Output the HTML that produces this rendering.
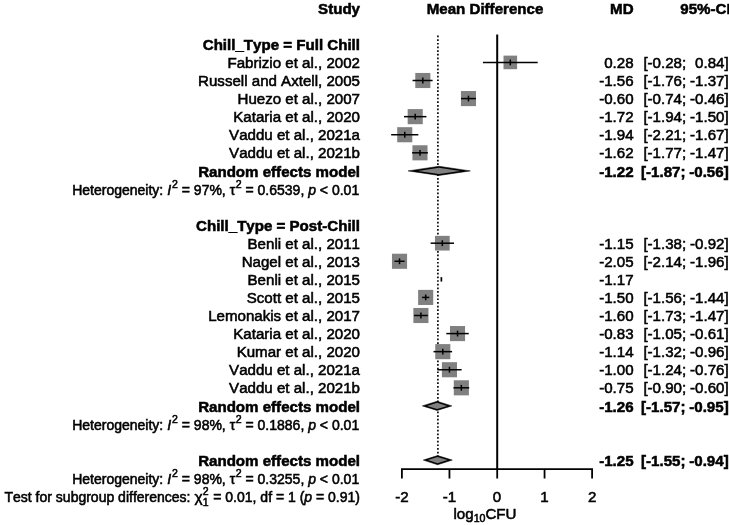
<!DOCTYPE html>
<html><head><meta charset="utf-8"><title>Forest plot</title>
<style>
html,body{margin:0;padding:0;background:#fff;}
svg{display:block;will-change:transform;font-family:"Liberation Sans",sans-serif;font-size:15.1px;fill:#000;}
text{white-space:pre;font-kerning:none;stroke:#000;stroke-width:0.55px;}
.sm{font-size:14.0px;}
</style></head>
<body>
<svg width="729" height="525" viewBox="0 0 729 525">
<rect width="729" height="525" fill="#fff"/>
<line x1="497.20" y1="34.4" x2="497.20" y2="469.1" stroke="#000" stroke-width="2.0"/>
<line x1="437.9" y1="35.6" x2="437.9" y2="455.82" stroke="#000" stroke-width="1.65" stroke-dasharray="1.7 1.95"/>
<path d="M401.90 478.5 V469.1 H592.10 V478.5" fill="none" stroke="#000" stroke-width="1.8"/>
<line x1="449.45" y1="469.1" x2="449.45" y2="478.5" stroke="#000" stroke-width="1.8"/>
<line x1="497.20" y1="469.1" x2="497.20" y2="478.5" stroke="#000" stroke-width="1.8"/>
<line x1="544.55" y1="469.1" x2="544.55" y2="478.5" stroke="#000" stroke-width="1.8"/>
<rect x="503.51" y="55.62" width="13.6" height="13.6" fill="#808080"/>
<line x1="483.69" y1="62.42" x2="536.94" y2="62.42" stroke="#000" stroke-width="1.5" stroke-linecap="square"/>
<line x1="510.31" y1="59.52" x2="510.31" y2="65.32" stroke="#000" stroke-width="1.5"/>
<rect x="415.27" y="72.95" width="15.1" height="15.1" fill="#808080"/>
<line x1="413.31" y1="80.50" x2="431.86" y2="80.50" stroke="#000" stroke-width="1.5" stroke-linecap="square"/>
<line x1="422.82" y1="77.60" x2="422.82" y2="83.40" stroke="#000" stroke-width="1.5"/>
<rect x="460.92" y="91.03" width="15.1" height="15.1" fill="#808080"/>
<line x1="461.81" y1="98.58" x2="475.13" y2="98.58" stroke="#000" stroke-width="1.5" stroke-linecap="square"/>
<line x1="468.47" y1="95.67" x2="468.47" y2="101.48" stroke="#000" stroke-width="1.5"/>
<rect x="407.66" y="109.10" width="15.1" height="15.1" fill="#808080"/>
<line x1="404.75" y1="116.65" x2="425.68" y2="116.65" stroke="#000" stroke-width="1.5" stroke-linecap="square"/>
<line x1="415.21" y1="113.75" x2="415.21" y2="119.55" stroke="#000" stroke-width="1.5"/>
<rect x="397.20" y="127.18" width="15.1" height="15.1" fill="#808080"/>
<line x1="391.91" y1="134.73" x2="417.59" y2="134.73" stroke="#000" stroke-width="1.5" stroke-linecap="square"/>
<line x1="404.75" y1="131.83" x2="404.75" y2="137.63" stroke="#000" stroke-width="1.5"/>
<rect x="412.42" y="145.26" width="15.1" height="15.1" fill="#808080"/>
<line x1="412.84" y1="152.81" x2="427.10" y2="152.81" stroke="#000" stroke-width="1.5" stroke-linecap="square"/>
<line x1="419.97" y1="149.91" x2="419.97" y2="155.71" stroke="#000" stroke-width="1.5"/>
<polygon points="408.08,170.88 438.99,166.28 470.37,170.88 438.99,175.48" fill="#000" stroke="#000" stroke-width="0.5"/>
<polygon points="417.97,170.88 438.99,167.75 460.33,170.88 438.99,174.01" fill="#808080"/>
<rect x="434.97" y="235.84" width="14.7" height="14.7" fill="#808080"/>
<line x1="431.38" y1="243.19" x2="453.25" y2="243.19" stroke="#000" stroke-width="1.5" stroke-linecap="square"/>
<line x1="442.32" y1="240.29" x2="442.32" y2="246.09" stroke="#000" stroke-width="1.5"/>
<rect x="391.97" y="253.72" width="15.1" height="15.1" fill="#808080"/>
<line x1="395.24" y1="261.27" x2="403.80" y2="261.27" stroke="#000" stroke-width="1.5" stroke-linecap="square"/>
<line x1="399.52" y1="258.37" x2="399.52" y2="264.17" stroke="#000" stroke-width="1.5"/>
<line x1="441.37" y1="277.15" x2="441.37" y2="281.55" stroke="#000" stroke-width="1.7"/>
<rect x="418.12" y="289.87" width="15.1" height="15.1" fill="#808080"/>
<line x1="422.82" y1="297.42" x2="428.53" y2="297.42" stroke="#000" stroke-width="1.5" stroke-linecap="square"/>
<line x1="425.68" y1="294.52" x2="425.68" y2="300.32" stroke="#000" stroke-width="1.5"/>
<rect x="413.37" y="307.95" width="15.1" height="15.1" fill="#808080"/>
<line x1="414.74" y1="315.50" x2="427.10" y2="315.50" stroke="#000" stroke-width="1.5" stroke-linecap="square"/>
<line x1="420.92" y1="312.60" x2="420.92" y2="318.40" stroke="#000" stroke-width="1.5"/>
<rect x="449.98" y="326.03" width="15.1" height="15.1" fill="#808080"/>
<line x1="447.07" y1="333.58" x2="467.99" y2="333.58" stroke="#000" stroke-width="1.5" stroke-linecap="square"/>
<line x1="457.53" y1="330.68" x2="457.53" y2="336.48" stroke="#000" stroke-width="1.5"/>
<rect x="435.24" y="344.10" width="15.1" height="15.1" fill="#808080"/>
<line x1="434.23" y1="351.65" x2="451.35" y2="351.65" stroke="#000" stroke-width="1.5" stroke-linecap="square"/>
<line x1="442.79" y1="348.75" x2="442.79" y2="354.55" stroke="#000" stroke-width="1.5"/>
<rect x="441.90" y="362.18" width="15.1" height="15.1" fill="#808080"/>
<line x1="438.04" y1="369.73" x2="460.86" y2="369.73" stroke="#000" stroke-width="1.5" stroke-linecap="square"/>
<line x1="449.45" y1="366.83" x2="449.45" y2="372.63" stroke="#000" stroke-width="1.5"/>
<rect x="453.79" y="380.26" width="15.1" height="15.1" fill="#808080"/>
<line x1="454.20" y1="387.81" x2="468.47" y2="387.81" stroke="#000" stroke-width="1.5" stroke-linecap="square"/>
<line x1="461.34" y1="384.91" x2="461.34" y2="390.71" stroke="#000" stroke-width="1.5"/>
<polygon points="422.35,405.88 437.09,401.28 451.83,405.88 437.09,410.48" fill="#000" stroke="#000" stroke-width="0.5"/>
<polygon points="427.06,405.88 437.09,402.76 447.11,405.88 437.09,409.01" fill="#808080"/>
<polygon points="423.30,460.12 437.56,455.52 452.30,460.12 437.56,464.72" fill="#000" stroke="#000" stroke-width="0.5"/>
<polygon points="427.86,460.12 437.56,456.99 447.59,460.12 437.56,463.24" fill="#808080"/>
<text x="360.00" y="13.82" text-anchor="end" font-weight="bold">Study</text>
<text x="485.00" y="13.82" text-anchor="middle" font-weight="bold">Mean Difference</text>
<text x="633.60" y="13.82" text-anchor="end" font-weight="bold">MD</text>
<text x="730.60" y="13.82" text-anchor="end" font-weight="bold">95%-CI</text>
<text x="360.00" y="49.97" text-anchor="end" font-weight="bold">Chill_Type = Full Chill</text>
<text x="360.00" y="68.05" text-anchor="end">Fabrizio et al., 2002</text>
<text x="633.60" y="68.05" text-anchor="end">0.28</text>
<text x="686.20" y="68.05" text-anchor="end">[-0.28;</text>
<text x="728.70" y="68.05" text-anchor="end">0.84]</text>
<text x="360.00" y="86.13" text-anchor="end">Russell and Axtell, 2005</text>
<text x="633.60" y="86.13" text-anchor="end">-1.56</text>
<text x="686.20" y="86.13" text-anchor="end">[-1.76;</text>
<text x="728.70" y="86.13" text-anchor="end">-1.37]</text>
<text x="360.00" y="104.21" text-anchor="end">Huezo et al., 2007</text>
<text x="633.60" y="104.21" text-anchor="end">-0.60</text>
<text x="686.20" y="104.21" text-anchor="end">[-0.74;</text>
<text x="728.70" y="104.21" text-anchor="end">-0.46]</text>
<text x="360.00" y="122.28" text-anchor="end">Kataria et al., 2020</text>
<text x="633.60" y="122.28" text-anchor="end">-1.72</text>
<text x="686.20" y="122.28" text-anchor="end">[-1.94;</text>
<text x="728.70" y="122.28" text-anchor="end">-1.50]</text>
<text x="360.00" y="140.36" text-anchor="end">Vaddu et al., 2021a</text>
<text x="633.60" y="140.36" text-anchor="end">-1.94</text>
<text x="686.20" y="140.36" text-anchor="end">[-2.21;</text>
<text x="728.70" y="140.36" text-anchor="end">-1.67]</text>
<text x="360.00" y="158.44" text-anchor="end">Vaddu et al., 2021b</text>
<text x="633.60" y="158.44" text-anchor="end">-1.62</text>
<text x="686.20" y="158.44" text-anchor="end">[-1.77;</text>
<text x="728.70" y="158.44" text-anchor="end">-1.47]</text>
<text x="360.00" y="176.51" text-anchor="end" font-weight="bold">Random effects model</text>
<text x="633.60" y="176.51" text-anchor="end" font-weight="bold">-1.22</text>
<text x="685.50" y="176.51" text-anchor="end" font-weight="bold">[-1.87;</text>
<text x="728.70" y="176.51" text-anchor="end" font-weight="bold">-0.56]</text>
<text x="359.20" y="194.59" text-anchor="end" class="sm">Heterogeneity: <tspan font-style="italic">I</tspan><tspan font-size="10.5" dy="-6.8" dx="1.0">2</tspan><tspan dy="6.8"> = 97%, τ</tspan><tspan font-size="10.5" dy="-6.8" dx="0.6">2</tspan><tspan dy="6.8"> = 0.6539, </tspan><tspan font-style="italic">p</tspan> &lt; 0.01</text>
<text x="360.00" y="230.74" text-anchor="end" font-weight="bold">Chill_Type = Post-Chill</text>
<text x="360.00" y="248.82" text-anchor="end">Benli et al., 2011</text>
<text x="633.60" y="248.82" text-anchor="end">-1.15</text>
<text x="686.20" y="248.82" text-anchor="end">[-1.38;</text>
<text x="728.70" y="248.82" text-anchor="end">-0.92]</text>
<text x="360.00" y="266.90" text-anchor="end">Nagel et al., 2013</text>
<text x="633.60" y="266.90" text-anchor="end">-2.05</text>
<text x="686.20" y="266.90" text-anchor="end">[-2.14;</text>
<text x="728.70" y="266.90" text-anchor="end">-1.96]</text>
<text x="360.00" y="284.98" text-anchor="end">Benli et al., 2015</text>
<text x="633.60" y="284.98" text-anchor="end">-1.17</text>
<text x="360.00" y="303.05" text-anchor="end">Scott et al., 2015</text>
<text x="633.60" y="303.05" text-anchor="end">-1.50</text>
<text x="686.20" y="303.05" text-anchor="end">[-1.56;</text>
<text x="728.70" y="303.05" text-anchor="end">-1.44]</text>
<text x="360.00" y="321.13" text-anchor="end">Lemonakis et al., 2017</text>
<text x="633.60" y="321.13" text-anchor="end">-1.60</text>
<text x="686.20" y="321.13" text-anchor="end">[-1.73;</text>
<text x="728.70" y="321.13" text-anchor="end">-1.47]</text>
<text x="360.00" y="339.21" text-anchor="end">Kataria et al., 2020</text>
<text x="633.60" y="339.21" text-anchor="end">-0.83</text>
<text x="686.20" y="339.21" text-anchor="end">[-1.05;</text>
<text x="728.70" y="339.21" text-anchor="end">-0.61]</text>
<text x="360.00" y="357.28" text-anchor="end">Kumar et al., 2020</text>
<text x="633.60" y="357.28" text-anchor="end">-1.14</text>
<text x="686.20" y="357.28" text-anchor="end">[-1.32;</text>
<text x="728.70" y="357.28" text-anchor="end">-0.96]</text>
<text x="360.00" y="375.36" text-anchor="end">Vaddu et al., 2021a</text>
<text x="633.60" y="375.36" text-anchor="end">-1.00</text>
<text x="686.20" y="375.36" text-anchor="end">[-1.24;</text>
<text x="728.70" y="375.36" text-anchor="end">-0.76]</text>
<text x="360.00" y="393.44" text-anchor="end">Vaddu et al., 2021b</text>
<text x="633.60" y="393.44" text-anchor="end">-0.75</text>
<text x="686.20" y="393.44" text-anchor="end">[-0.90;</text>
<text x="728.70" y="393.44" text-anchor="end">-0.60]</text>
<text x="360.00" y="411.51" text-anchor="end" font-weight="bold">Random effects model</text>
<text x="633.60" y="411.51" text-anchor="end" font-weight="bold">-1.26</text>
<text x="685.50" y="411.51" text-anchor="end" font-weight="bold">[-1.57;</text>
<text x="728.70" y="411.51" text-anchor="end" font-weight="bold">-0.95]</text>
<text x="359.20" y="429.59" text-anchor="end" class="sm">Heterogeneity: <tspan font-style="italic">I</tspan><tspan font-size="10.5" dy="-6.8" dx="1.0">2</tspan><tspan dy="6.8"> = 98%, τ</tspan><tspan font-size="10.5" dy="-6.8" dx="0.6">2</tspan><tspan dy="6.8"> = 0.1886, </tspan><tspan font-style="italic">p</tspan> &lt; 0.01</text>
<text x="360.00" y="465.75" text-anchor="end" font-weight="bold">Random effects model</text>
<text x="633.60" y="465.75" text-anchor="end" font-weight="bold">-1.25</text>
<text x="685.50" y="465.75" text-anchor="end" font-weight="bold">[-1.55;</text>
<text x="728.70" y="465.75" text-anchor="end" font-weight="bold">-0.94]</text>
<text x="359.20" y="483.82" text-anchor="end" class="sm">Heterogeneity: <tspan font-style="italic">I</tspan><tspan font-size="10.5" dy="-6.8" dx="1.0">2</tspan><tspan dy="6.8"> = 98%, τ</tspan><tspan font-size="10.5" dy="-6.8" dx="0.6">2</tspan><tspan dy="6.8"> = 0.3255, </tspan><tspan font-style="italic">p</tspan> &lt; 0.01</text>
<text x="360.00" y="501.90" text-anchor="end" class="sm">Test for subgroup differences: <tspan font-size="15.5">χ</tspan><tspan font-size="10.5" dy="-6.8" dx="0.2">2</tspan><tspan font-size="10.5" dy="10.6" dx="-5.84">1</tspan><tspan dy="-3.8" dx="0.8"> = 0.01, df = 1 (</tspan><tspan font-style="italic">p</tspan> = 0.91)</text>
<text x="401.90" y="501.70" text-anchor="middle">-2</text>
<text x="449.45" y="501.70" text-anchor="middle">-1</text>
<text x="497.00" y="501.70" text-anchor="middle">0</text>
<text x="544.55" y="501.70" text-anchor="middle">1</text>
<text x="592.10" y="501.70" text-anchor="middle">2</text>
<text x="485.00" y="518.80" text-anchor="middle">log<tspan font-size="10.6" dy="3">10</tspan><tspan dy="-3">CFU</tspan></text>
</svg>
</body></html>
